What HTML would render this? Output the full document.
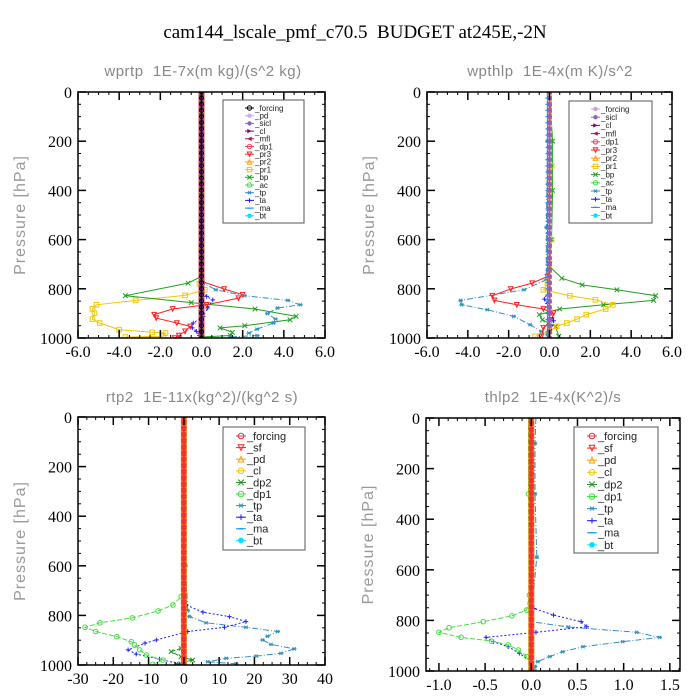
<!DOCTYPE html>
<html><head><meta charset="utf-8">
<style>
html,body{margin:0;padding:0;background:#fff;}
svg{display:block;}
text{white-space:pre;}
</style></head>
<body>
<svg id="chart" width="700" height="700" viewBox="0 0 700 700" xmlns="http://www.w3.org/2000/svg">
<rect width="700" height="700" fill="#fff"/>
<text x="355" y="38" text-anchor="middle" font-family="Liberation Serif, serif" font-size="19" fill="#000" xml:space="preserve">cam144_lscale_pmf_c70.5  BUDGET at245E,-2N</text>
</svg>
<script>
// ---------- shared data ----------
const levels = [0,25,50,75,100,125,150,175,200,225,250,275,300,325,350,375,400,425,450,475,500,525,550,575,600,625,650,675,700,725,750,775,800,825,850,875,900,925,950,975,1000];

// ---------- panel 1: wprtp ----------
const p1Names = ["_forcing","_pd","_sicl","_cl","_mfl","_dp1","_pr3","_pr2","_pr1","_bp","_ac","_tp","_ta","_ma","_bt"];
const p1CenterSeries = ["_bt","_ma","_ac","_pr2","_pd","_dp1","_mfl","_sicl","_cl","_forcing"];
const p1CenterValues = [0,0,0,0,0,0,0,0,0,0];
const p1_pr1_p = [0,780,804,827,847,865,882,899,923,939,966,977,980,993,996];
const p1_pr1_v = [0,-0.1,0.16,-0.8,-3.2,-5.1,-5.3,-5.2,-5.3,-4.95,-4.0,-2.4,-1.75,-1.85,-3.7];
const p1_bp_p = [0,750,777,828,856,882,912,926,950,959,977,990,996];
const p1_bp_v = [0,0,-0.65,-3.7,-0.5,2.6,4.6,4.3,2.1,0.9,1.5,1.4,0];
const p1_pr3_p = [0,770,801,824,838,865,882,905,919,939,953,973,990,1000];
const p1_pr3_v = [0,0,1.1,2.0,1.8,0.25,-1.4,-2.3,-2.2,-1.2,-0.55,-0.8,-1.1,-1.3];
const p1_tp_p = [0,777,804,828,847,865,878,901,923,939,964,980,990,996];
const p1_tp_v = [0,0.08,0.7,2.1,4.2,4.8,3.7,3.2,3.6,3.5,2.7,2.3,2.7,1.4];
const p1_ta_p = [0,800,831,845,878,912,939,959,973,990,1000];
const p1_ta_v = [0,0,0.25,0.55,0.3,0.08,-0.4,-0.45,-0.25,-0.1,0];

// ---------- panel 2: wpthlp ----------
const p2Names = ["_forcing","_sicl","_cl","_mfl","_dp1","_pr3","_pr2","_pr1","_bp","_ac","_tp","_ta","_ma","_bt"];
const p2CenterSeries = ["_bt","_ma","_ac","_pr2","_dp1","_mfl","_cl","_forcing","_sicl"];
const p2CenterValues = [0,-0.1,0,0,0,0,0,0,0];
const p2_bp_p = [0,200,400,600,709,757,784,804,828,847,865,882,905,926,953,993];
const p2_bp_v = [0,0.15,0.15,0.1,0,0.6,1.6,3.3,5.2,5.1,2.65,0.5,-0.5,-0.35,0.3,0.45];
const p2_pr1_p = [0,300,600,777,804,828,845,865,882,905,923,939,953,973,993];
const p2_pr1_v = [0.1,0.1,0.1,-0.1,-0.3,1.0,2.25,3.1,2.75,1.8,1.35,0.85,0.35,0,-0.7];
const p2_pr3_p = [0,700,750,777,801,828,847,865,882,899,926,959,993];
const p2_pr3_v = [0,0,-0.1,-0.85,-1.9,-2.8,-2.7,-1.6,-0.3,0.2,0.1,-0.3,-0.4];
const p2_tp_p = [0,200,550,763,804,847,865,885,912,946,973,986];
const p2_tp_v = [-0.1,-0.1,-0.15,-0.15,-1.25,-4.35,-4.3,-3.05,-1.75,-0.95,-0.4,-0.1];
const p2_ta_p = [0,800,842,860,930,1000];
const p2_ta_v = [0,0,-0.25,-0.1,0.2,0];

// ---------- panel 3: rtp2 ----------
const p3Names = ["_forcing","_sf","_pd","_cl","_dp2","_dp1","_tp","_ta","_ma","_bt"];
const p3CenterSeries = ["_bt","_ma","_cl","_pd","_sf","_forcing"];
const p3CenterValues = [0,0,0,0,0,0];
const p3_dp1_p = [0,700,724,758,782,810,830,848,865,886,906,919,939,960,980,997];
const p3_dp1_v = [0,0,-0.75,-3.1,-7.3,-14.6,-23.8,-28,-25,-19,-14.9,-14,-12.5,-10.6,-5.9,-8.8];
const p3_dp2_p = [0,900,933,946,967,980,996];
const p3_dp2_v = [0,0,-0.8,-3.6,-0.8,2.5,-2.2];
const p3_ta_p = [0,758,787,805,825,848,865,899,912,939,956,976,996];
const p3_ta_v = [0,0.7,5.4,12.9,17.6,11.5,1.1,-7.8,-11,-15.8,-13.5,-6.9,-1.2];
const p3_tp_p = [0,600,780,805,830,848,865,884,899,917,935,953,964,973,987,995];
const p3_tp_v = [0,0.5,1.1,1.6,6.3,17.6,26.6,23.7,22.3,24.7,31.3,27.5,20.5,12,6.8,14.8];

// ---------- panel 4: thlp2 ----------
const p4Names = ["_forcing","_sf","_pd","_cl","_dp2","_dp1","_tp","_ta","_ma","_bt"];
const p4CenterSeries = ["_bt","_ma","_dp2","_cl","_pd","_sf","_forcing"];
const p4CenterValues = [0,0,0,0,0,0,0];
const p4_dp1_p = [0,300,700,759,782,805,829,847,867,882,897,917,943,976,1000];
const p4_dp1_v = [-0.03,-0.03,-0.02,-0.05,-0.21,-0.52,-0.89,-1.0,-0.76,-0.43,-0.25,-0.14,-0.05,0,0];
const p4_ta_p = [0,700,753,779,805,825,847,867,884,904,930,963];
const p4_ta_v = [0,0,0.03,0.24,0.54,0.6,0.05,-0.49,-0.41,-0.25,-0.13,0];
const p4_tp_p = [0,100,300,550,779,805,826,847,867,884,904,924,943,963,982,1000];
const p4_tp_v = [0.05,0.04,0.04,0.06,0,0,0.4,1.14,1.39,0.99,0.56,0.34,0.2,0.07,0.04,0.04];

// ---------- styles ----------
const STY = {
 "_forcing":{c:"#000000",m:"circle"}, "_pd":{c:"#d8a8e0",m:"star"}, "_sicl":{c:"#9060c0",m:"star"},
 "_cl":{c:"#800080",m:"tri-r"}, "_mfl":{c:"#b0104a",m:"tri-l"}, "_dp1":{c:"#f04060",m:"circle"},
 "_pr3":{c:"#ff2020",m:"tri-d"}, "_pr2":{c:"#ffa000",m:"tri-u"}, "_pr1":{c:"#f0c800",m:"square"},
 "_bp":{c:"#20a020",m:"x"}, "_ac":{c:"#40e040",m:"circle"}, "_tp":{c:"#3090c0",m:"ast",d:"6,2,1,2"},
 "_ta":{c:"#2020ff",m:"plus",d:"2,2"}, "_ma":{c:"#1090f0",m:"dash",d:"5,3"}, "_bt":{c:"#00e0ff",m:"dot"},
 "_sf":{c:"#ff2020",m:"tri-d"}, "_dp2":{c:"#209020",m:"x"}
};
const STY2 = {"_forcing":{c:"#c8a0d8",m:"dot"}};
const STY34 = {"_forcing":{c:"#f03040",m:"circle"},"_dp1":{c:"#40e040",m:"circle",d:"5,2"},"_pd":{c:"#ffa000",m:"tri-u"},"_cl":{c:"#f0c800",m:"circle"},"_dp2":{c:"#209020",m:"x",d:"5,2"}};

const NS="http://www.w3.org/2000/svg";
const svg=document.getElementById('chart');
function mk(tag,attrs,parent){const e=document.createElementNS(NS,tag);for(const k in attrs)e.setAttribute(k,attrs[k]);(parent||svg).appendChild(e);return e;}

function marker(g,type,x,y,c,r){
 r=r||2.5;
 let e;
 if(type==="circle"){e=mk('circle',{cx:x,cy:y,r:r,fill:'none',stroke:c,'stroke-width':1},g);}
 else if(type==="dot"){e=mk('circle',{cx:x,cy:y,r:r,fill:c},g);}
 else if(type==="square"){e=mk('rect',{x:x-r,y:y-r,width:2*r,height:2*r,fill:'none',stroke:c,'stroke-width':1},g);}
 else if(type==="tri-d"){e=mk('polygon',{points:`${x-r},${y-r} ${x+r},${y-r} ${x},${y+r}`,fill:'none',stroke:c},g);}
 else if(type==="tri-u"){e=mk('polygon',{points:`${x-r},${y+r} ${x+r},${y+r} ${x},${y-r}`,fill:'none',stroke:c},g);}
 else if(type==="tri-r"){e=mk('polygon',{points:`${x-r},${y-r} ${x-r},${y+r} ${x+r},${y}`,fill:c},g);}
 else if(type==="tri-l"){e=mk('polygon',{points:`${x+r},${y-r} ${x+r},${y+r} ${x-r},${y}`,fill:c},g);}
 else if(type==="star"){e=mk('path',{d:`M${x-r},${y}H${x+r}M${x},${y-r}V${y+r}M${x-r*0.7},${y-r*0.7}L${x+r*0.7},${y+r*0.7}M${x-r*0.7},${y+r*0.7}L${x+r*0.7},${y-r*0.7}`,stroke:c,'stroke-width':1.3},g);}
 else if(type==="x"){e=mk('path',{d:`M${x-r},${y-r}L${x+r},${y+r}M${x-r},${y+r}L${x+r},${y-r}`,stroke:c,'stroke-width':1},g);}
 else if(type==="ast"){e=mk('path',{d:`M${x-r},${y}H${x+r}M${x-r*0.7},${y-r*0.7}L${x+r*0.7},${y+r*0.7}M${x-r*0.7},${y+r*0.7}L${x+r*0.7},${y-r*0.7}`,stroke:c,'stroke-width':1},g);}
 else if(type==="plus"){e=mk('path',{d:`M${x-r},${y}H${x+r}M${x},${y-r}V${y+r}`,stroke:c,'stroke-width':1},g);}
 else {e=mk('path',{d:`M${x-r},${y}H${x+r}`,stroke:c,'stroke-width':1.2},g);}
 
 
}

function panel(cfg){
 const {x0,x1,y0,y1,xmin,xmax,xMajor,xMinor,xFmt,title,titleX,titleY,id,legend,names,centerNames,centerValues,series,band}=cfg;
 const S=n=>(cfg.sty&&cfg.sty[n])||STY[n];
 const g=mk('g',{});
 
 
 const X=v=>x0+(v-xmin)/(xmax-xmin)*(x1-x0);
 const Y=p=>y0+p/1000*(y1-y0);
 const t=mk('text',{x:titleX,y:titleY,'text-anchor':'middle','font-family':'Liberation Sans, sans-serif','font-size':15,fill:'#888','letter-spacing':'0.5','xml:space':'preserve'},g);
 t.textContent=title;
 
 
 const yt=mk('text',{x:0,y:0,transform:`translate(${x0-53},${(y0+y1)/2}) rotate(-90)`,'text-anchor':'middle','font-family':'Liberation Sans, sans-serif','font-size':16,fill:'#999','letter-spacing':'1'},g);
 yt.textContent='Pressure [hPa]';
 
 
 const cid='clip'+id;
 const cp=mk('clipPath',{id:cid},g);mk('rect',{x:x0,y:y0,width:x1-x0,height:y1-y0},cp);
 const sg=mk('g',{'clip-path':`url(#${cid})`},g);
 
 
 series.forEach(s=>{
  const st=S(s.name);
  const pts=s.p.map((p,i)=>X(s.v[i]).toFixed(1)+','+Y(p).toFixed(1)).join(' ');
  const pl=mk('polyline',{points:pts,fill:'none',stroke:st.c,'stroke-width':1,'stroke-dasharray':st.d||'none'},sg);
  
  
  s.p.forEach((p,i)=>{ if(p>0) marker(sg,st.m,X(s.v[i]),Y(p),st.c,2.3); });
 });
 if(band){
  const b=mk('rect',{x:X(0)-2.5,y:Y(0),width:5,height:Y(1000)-Y(0),fill:band.fill,stroke:band.stroke,'stroke-width':1},sg);
  
  
 }
 centerNames.forEach((n,k)=>{
  const st=S(n);const cx=X(centerValues[k]);
  const ln=mk('line',{x1:cx,y1:Y(0),x2:cx,y2:Y(1000),stroke:st.c,'stroke-width':1.2},sg);
  
  
  levels.forEach(p=>marker(sg,st.m,cx,Y(p),st.c,2));
 });
 const fr=mk('rect',{x:x0,y:y0,width:x1-x0,height:y1-y0,fill:'none',stroke:'#000','stroke-width':1.5},g);
 
 
 for(let p=0;p<=1000;p+=50){
  const maj=p%200===0;const L=maj?8:3;
  mk('line',{x1:x0,y1:Y(p),x2:x0+L,y2:Y(p),stroke:'#000','stroke-width':maj?1.5:1},g);
  mk('line',{x1:x1,y1:Y(p),x2:x1-L,y2:Y(p),stroke:'#000','stroke-width':maj?1.5:1},g);
  if(maj){const tl=mk('text',{x:x0-6,y:Y(p)+6,'text-anchor':'end','font-family':'Liberation Serif, serif','font-size':16,fill:'#000'},g);
   tl.textContent=p;}
 }
 const start=Math.ceil(xmin/xMinor-1e-9)*xMinor;
 for(let v=start;v<=xmax+1e-9;v+=xMinor){
  const vr=Math.round(v/xMinor)*xMinor;
  const maj=Math.abs(vr/xMajor-Math.round(vr/xMajor))<1e-6;const L=maj?8:3;
  mk('line',{x1:X(vr),y1:y1,x2:X(vr),y2:y1-L,stroke:'#000','stroke-width':maj?1.5:1},g);
  mk('line',{x1:X(vr),y1:y0,x2:X(vr),y2:y0+L,stroke:'#000','stroke-width':maj?1.5:1},g);
  if(maj){const tl=mk('text',{x:X(vr),y:y1+19,'text-anchor':'middle','font-family':'Liberation Serif, serif','font-size':16,fill:'#000'},g);
   tl.textContent=xFmt(vr);}
 }
 const lg=mk('g',{},g);
 
 
 mk('rect',{x:legend.x,y:legend.y,width:legend.w,height:legend.h,fill:'#fff',stroke:'#555','stroke-width':1},lg);
 names.forEach((n,i)=>{
  const st=S(n);const yy=legend.ry0+i*legend.dy;
  const e=mk('g',{},lg);
  
  
  mk('line',{x1:legend.lx,y1:yy,x2:legend.lx+legend.ll,y2:yy,stroke:st.c,'stroke-width':1},e);
  marker(e,st.m,legend.lx+legend.ll/2,yy,st.c,legend.fs>9?2.8:2.2);
  const tx=mk('text',{x:legend.lx+legend.ll+1,y:yy+legend.fs*0.35,'font-family':'Liberation Sans, sans-serif','font-size':legend.fs,fill:'#222'},e);
  tx.textContent=n;
 });
}
const f1=v=>v.toFixed(1);
const f0=v=>String(Math.round(v));

panel({id:'wprtp',x0:78,x1:325,y0:92,y1:338,xmin:-6,xmax:6,xMajor:2,xMinor:0.5,xFmt:f1,
 title:'wprtp  1E-7x(m kg)/(s^2 kg)',titleX:203,titleY:76,band:{fill:'#5a3060',stroke:'#d04040'},
 legend:{x:223,y:100,w:81,h:123,lx:245,ll:9,ry0:108,dy:7.7,fs:8},
 names:p1Names,centerNames:p1CenterSeries,centerValues:p1CenterValues,
 series:[{name:'_pr1',p:p1_pr1_p,v:p1_pr1_v},{name:'_bp',p:p1_bp_p,v:p1_bp_v},{name:'_pr3',p:p1_pr3_p,v:p1_pr3_v},{name:'_tp',p:p1_tp_p,v:p1_tp_v},{name:'_ta',p:p1_ta_p,v:p1_ta_v}]});

panel({id:'wpthlp',x0:427,x1:672,y0:92,y1:338,xmin:-6,xmax:6,xMajor:2,xMinor:0.5,xFmt:f1,sty:STY2,
 title:'wpthlp  1E-4x(m K)/s^2',titleX:550,titleY:76,
 legend:{x:569,y:101,w:83,h:122,lx:591,ll:9,ry0:109,dy:8.2,fs:8},
 names:p2Names,centerNames:p2CenterSeries,centerValues:p2CenterValues,
 series:[{name:'_tp',p:p2_tp_p,v:p2_tp_v},{name:'_bp',p:p2_bp_p,v:p2_bp_v},{name:'_pr1',p:p2_pr1_p,v:p2_pr1_v},{name:'_pr3',p:p2_pr3_p,v:p2_pr3_v},{name:'_ta',p:p2_ta_p,v:p2_ta_v}]});

panel({id:'rtp2',x0:78,x1:325,y0:417,y1:665,xmin:-30,xmax:40,xMajor:10,xMinor:2.5,xFmt:f0,sty:STY34,
 title:'rtp2  1E-11x(kg^2)/(kg^2 s)',titleX:202,titleY:402,band:{fill:'#ff3020',stroke:'#d08000'},
 legend:{x:223,y:427,w:82,h:123,lx:236,ll:10,ry0:436,dy:11.6,fs:11},
 names:p3Names,centerNames:p3CenterSeries,centerValues:p3CenterValues,
 series:[{name:'_tp',p:p3_tp_p,v:p3_tp_v},{name:'_ta',p:p3_ta_p,v:p3_ta_v},{name:'_dp1',p:p3_dp1_p,v:p3_dp1_v},{name:'_dp2',p:p3_dp2_p,v:p3_dp2_v}]});

panel({id:'thlp2',x0:426,x1:680,y0:418,y1:671,xmin:-1.14,xmax:1.61,xMajor:0.5,xMinor:0.1,xFmt:f1,sty:STY34,
 title:'thlp2  1E-4x(K^2)/s',titleX:553,titleY:402,band:{fill:'#ff3020',stroke:'#d08000'},
 legend:{x:574,y:427,w:84,h:126,lx:587,ll:10,ry0:436,dy:12.1,fs:11},
 names:p4Names,centerNames:p4CenterSeries,centerValues:p4CenterValues,
 series:[{name:'_tp',p:p4_tp_p,v:p4_tp_v},{name:'_ta',p:p4_ta_p,v:p4_ta_v},{name:'_dp1',p:p4_dp1_p,v:p4_dp1_v}]});
</script>
</body></html>
